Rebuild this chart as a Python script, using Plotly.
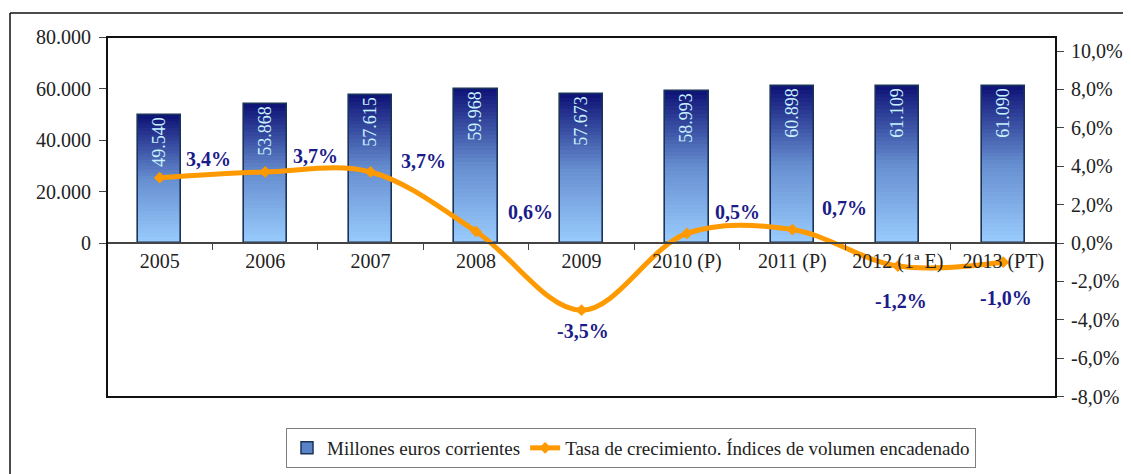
import plotly.graph_objects as go

# ---------------- data ----------------
categories = ["2005", "2006", "2007", "2008", "2009", "2010 (P)", "2011 (P)", "2012 (1ª E)", "2013 (PT)"]
millones = [49540, 53868, 57615, 59968, 57673, 58993, 60898, 61109, 61090]
tasa = [3.4, 3.7, 3.7, 0.6, -3.5, 0.5, 0.7, -1.2, -1.0]

left_tickvals = [0, 20000, 40000, 60000, 80000]
left_ticktext = ["0", "20.000", "40.000", "60.000", "80.000"]
right_tickvals = [-8, -6, -4, -2, 0, 2, 4, 6, 8, 10]
right_ticktext = ["-8,0%", "-6,0%", "-4,0%", "-2,0%", "0,0%", "2,0%", "4,0%", "6,0%", "8,0%", "10,0%"]

bar_name = "Millones euros corrientes"
line_name = "Tasa de crecimiento. Índices de volumen encadenado"

# ---------------- style ----------------
OFF = 8  # page body margin
W, H = 1131 - OFF, 474 - OFF
L, R, T, B = 107 - OFF, 1056 - OFF, 37 - OFF, 397 - OFF  # plot area in figure pixels
ZERO = 243 - OFF
FONT = "Liberation Serif"
LABEL_COLOR = "#1B1B8A"
# pixel offsets of the percentage labels relative to their points
label_offsets = [(49, 19), (50, 16), (53, 11), (54, 19), (1, -21), (51, 21), (52, 22), (3, -35), (3, -36)]

bar_width = 0.41
N_SLICES = 40


def grad_color(t):
    # t = 0 bottom (light), t = 1 top (dark navy)
    stops = [(0.0, (153, 204, 253)), (0.5, (102, 142, 208)), (1.0, (14, 18, 118))]
    for (t0, c0), (t1, c1) in zip(stops[:-1], stops[1:]):
        if t <= t1:
            f = (t - t0) / (t1 - t0)
            c = [round(a + (b - a) * f) for a, b in zip(c0, c1)]
            return f"rgb({c[0]},{c[1]},{c[2]})"
    return "rgb(14,18,118)"


fig = go.Figure()

# gradient bars: overlapping bars from 0, tallest (darkest) drawn first
for i in range(N_SLICES):
    frac = (N_SLICES - i) / N_SLICES
    fig.add_trace(go.Bar(
        x=categories, y=[v * frac for v in millones], width=bar_width,
        marker=dict(color=grad_color(frac - 0.5 / N_SLICES), line=dict(width=0)),
        showlegend=False, hoverinfo="skip",
    ))

# outline + value text
fig.add_trace(go.Bar(
    x=categories, y=millones, width=bar_width,
    marker=dict(color="rgba(0,0,0,0)", line=dict(color="#1A3358", width=1.6)),
    text=[f"{v:,}".replace(",", ".") for v in millones],
    textposition="inside", insidetextanchor="end", textangle=-90,
    textfont=dict(family=FONT, size=18, color="#C8F2FF"),
    insidetextfont=dict(family=FONT, size=18, color="#C8F2FF"),
    constraintext="none",
    showlegend=False, name=bar_name,
))

# legend-only bar entry
fig.add_trace(go.Bar(
    x=[categories[0]], y=[None], name=bar_name, width=bar_width,
    marker=dict(color="rgb(90,130,200)", line=dict(color="#1A3358", width=1.5)),
    legendrank=1,
))

# growth line
fig.add_trace(go.Scatter(
    x=categories, y=tasa, yaxis="y2", name=line_name, mode="lines+markers",
    line=dict(color="#FF9900", width=5, shape="spline", smoothing=1.0),
    marker=dict(symbol="diamond", size=9, color="#FF9900"),
    legendrank=2,
))

annotations = []
for idx, (v, (dx, dy)) in enumerate(zip(tasa, label_offsets)):
    annotations.append(dict(
        x=idx, y=v, xref="x", yref="y2", text=f"{v:.1f}%".replace(".", ","),
        showarrow=False, xshift=dx, yshift=dy,
        font=dict(family=FONT, size=20, color=LABEL_COLOR, weight="bold"),
    ))

ph = B - T
left_lo = -80000 * (B - ZERO) / (ZERO - T)
pct_px = (243 - 51) / 10.0
right_lo = -(B - ZERO) / pct_px
right_hi = (ZERO - T) / pct_px


def px_x(p):
    return (p - OFF - L) / (R - L)


def px_y(p):
    return (B - (p - OFF)) / (B - T)


shapes = [
    # plot area border
    dict(type="rect", xref="paper", yref="paper", x0=0, y0=0, x1=1, y1=1,
         line=dict(color="#111111", width=2), layer="above"),
    # outer frame (top and left)
    dict(type="line", xref="paper", yref="paper", x0=px_x(10), x1=px_x(1145), y0=px_y(13), y1=px_y(13),
         line=dict(color="#111111", width=1.5)),
    dict(type="line", xref="paper", yref="paper", x0=px_x(10), x1=px_x(10), y0=px_y(13), y1=px_y(490),
         line=dict(color="#111111", width=1.5)),
]

fig.update_layout(
    width=W, height=H,
    margin=dict(l=L, r=W - R, t=T, b=H - B, autoexpand=False),
    paper_bgcolor="white", plot_bgcolor="white",
    barmode="overlay", bargap=0,
    font=dict(family=FONT, size=20, color="#222222"),
    showlegend=True,
    legend=dict(
        orientation="h", x=px_x(631), xanchor="center", y=px_y(428), yanchor="top",
        bordercolor="#808080", borderwidth=1, bgcolor="white",
        font=dict(family=FONT, size=19, color="#222222"),
        traceorder="normal",
    ),
    xaxis=dict(
        type="category", categoryorder="array", categoryarray=categories,
        range=[-0.5, len(categories) - 0.5],
        anchor="free", position=(B - ZERO) / ph,
        showline=True, linecolor="#444444", linewidth=1.5,
        ticks="outside", tickson="boundaries", ticklen=6, tickcolor="#444444",
        showgrid=False, zeroline=False,
        tickfont=dict(family=FONT, size=20, color="#222222"),
    ),
    yaxis=dict(
        range=[left_lo, 80000], tickvals=left_tickvals, ticktext=left_ticktext,
        ticks="outside", ticklen=7, tickcolor="#444444",
        showgrid=False, zeroline=False, showline=False,
        tickfont=dict(family=FONT, size=20, color="#222222"),
        ticklabelstandoff=4,
    ),
    yaxis2=dict(
        overlaying="y", side="right", range=[right_lo, right_hi],
        tickvals=right_tickvals, ticktext=right_ticktext,
        ticks="outside", ticklen=7, tickcolor="#444444",
        showgrid=False, zeroline=False, showline=False,
        tickfont=dict(family=FONT, size=20, color="#222222"),
        ticklabelstandoff=3,
    ),
    annotations=annotations,
    shapes=shapes,
)

fig.write_html("out.html")
